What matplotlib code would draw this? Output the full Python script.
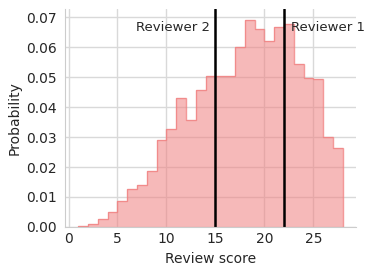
import numpy as np
import matplotlib
matplotlib.use("Agg")
import matplotlib.pyplot as plt
import seaborn as sns

# bin edges 1..28 (score bins of width 1)
bin_edges = np.arange(1, 29)
probs = [0.0003, 0.0011, 0.0027, 0.0050, 0.0087, 0.0128, 0.0139, 0.0186,
         0.0291, 0.0327, 0.0431, 0.0357, 0.0459, 0.0503, 0.0503, 0.0503,
         0.0601, 0.0693, 0.0663, 0.0622, 0.0668, 0.0679, 0.0545, 0.0499,
         0.0494, 0.0302, 0.0263]
reviewers = ["Reviewer 1", "Reviewer 2"]
reviewer_scores = [22, 15]

sns.set_style("whitegrid")
plt.rcParams['font.family'] = ['DejaVu Sans']

fig = plt.figure(figsize=(3.74, 2.76), dpi=100)
ax = fig.add_axes([0.174, 0.178, 0.778, 0.789])

ax.stairs(probs, bin_edges, fill=True, facecolor="#f08080", alpha=0.55, edgecolor="none")
ax.stairs(probs, bin_edges, color="#f08080", alpha=0.8, linewidth=1)
ax.margins(x=0.05, y=0)
ax.set_ylim(0, 0.0728)

for name, s in zip(reviewers, reviewer_scores):
    ax.axvline(s, color="black", linewidth=1.8)
    if s == 15:
        ax.text(s - 0.6, 0.0665, name, ha="right", va="center", fontsize=9.5, color="#262626")
    else:
        ax.text(s + 0.7, 0.0665, name, ha="left", va="center", fontsize=9.5, color="#262626")

ax.set_xticks([0, 5, 10, 15, 20, 25])
ax.set_yticks(np.arange(0, 0.071, 0.01))
ax.yaxis.set_major_formatter(plt.FormatStrFormatter('%.2f'))
ax.tick_params(labelsize=10, colors="#262626", length=0)
ax.tick_params(axis="y", pad=6)
ax.tick_params(axis="x", pad=4)
ax.set_xlabel("Review score", fontsize=10, color="#262626")
ax.set_ylabel("Probability", fontsize=10, color="#262626", labelpad=3)
ax.grid(color="#d9d9d9", linewidth=1)
sns.despine(ax=ax)
for sp in ["left", "bottom"]:
    ax.spines[sp].set_color("#cccccc")

fig.savefig("out.png", dpi=100)
